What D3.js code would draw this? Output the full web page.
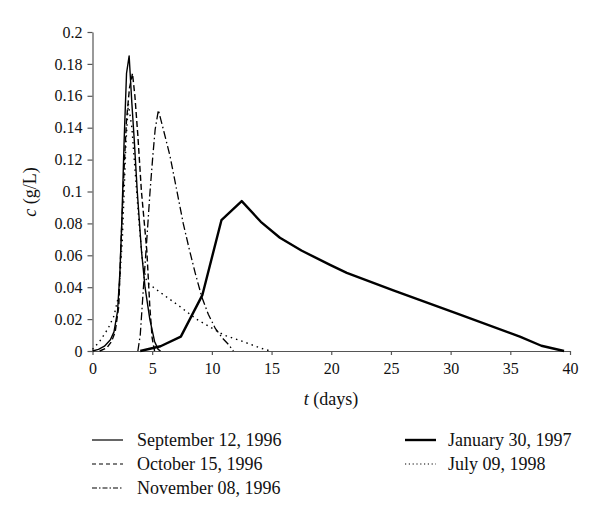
<!DOCTYPE html>
<html>
<head>
<meta charset="utf-8">
<script src="https://cdn.jsdelivr.net/npm/d3@7"></script>
<style>
  body { margin: 0; background: #fff; }
  svg { font-family: "Liberation Serif", "DejaVu Serif", serif; }
</style>
</head>
<body>
<svg id="chart" width="600" height="521"></svg>
<script>
// values: [t (days), c (g/L)]
const sep12 = [[0,0],[0.5,0.001],[1,0.003],[1.5,0.007],[1.8,0.012],[2.1,0.025],[2.3,0.05],[2.45,0.08],[2.65,0.132],[2.85,0.174],[3.07,0.185],
  [3.3,0.155],[3.5,0.132],[3.75,0.1],[4.1,0.063],[4.4,0.04],[4.8,0.02],[5.2,0.006],[5.5,0.001],[5.7,0]];
const oct15 = [[0.6,0],[1.2,0.002],[1.6,0.006],[1.9,0.012],[2.2,0.028],[2.4,0.07],[2.65,0.115],[2.85,0.145],[3.1,0.165],[3.35,0.174],
  [3.55,0.16],[3.8,0.135],[4.1,0.1],[4.55,0.063],[4.8,0.028],[5.0,0.008],[5.2,0]];
const nov08 = [[3.8,0],[4.0,0.01],[4.25,0.038],[4.55,0.07],[4.82,0.1],[5.05,0.122],[5.25,0.139],[5.52,0.151],[6.0,0.137],[6.5,0.122],
  [7.0,0.103],[7.6,0.08],[8.1,0.064],[8.6,0.049],[9.15,0.034],[9.7,0.023],[10.3,0.014],[10.9,0.008],[11.4,0.004],[11.8,0]];
const jan30 = [[4.0,0],[5.7,0.003],[7.4,0.009],[9.2,0.035],[10.8,0.082],[12.5,0.094],[14.1,0.081],[15.7,0.071],[17.5,0.063],
  [19.9,0.054],[21.3,0.049],[25.2,0.038],[30.5,0.0236],[35.8,0.009],[37.6,0.0033],[39.5,0]];
const jul09 = [[0,0.001],[0.6,0.006],[1.3,0.014],[1.8,0.022],[2.2,0.035],[2.5,0.07],[2.8,0.13],[3.0,0.155],[3.3,0.14],[3.6,0.11],
  [3.9,0.08],[4.2,0.055],[4.55,0.043],[6,0.035],[7.3,0.028],[8.7,0.02],[11,0.01],[12.6,0.006],[14,0.002],[14.9,0]];

const seriesNames = ["September 12, 1996", "October 15, 1996", "November 08, 1996", "January 30, 1997", "July 09, 1998"];
const seriesData = [sep12, oct15, nov08, jan30, jul09];
const xTicks = [0, 5, 10, 15, 20, 25, 30, 35, 40];
const yTicks = [0, 0.02, 0.04, 0.06, 0.08, 0.1, 0.12, 0.14, 0.16, 0.18, 0.2];

const styles = [
  { width: 1.4, dash: null, legendDash: null },
  { width: 1.4, dash: "6,3", legendDash: "4,3" },
  { width: 1.3, dash: "8,3,1.5,3", legendDash: "5,2,1.5,2" },
  { width: 2.4, dash: null, legendDash: null },
  { width: 1.4, dash: "1.5,4", legendDash: "1.2,2.6" }
];

const svg = d3.select("#chart");
const x = d3.scaleLinear().domain([0, 40]).range([92.5, 570]);
const y = d3.scaleLinear().domain([0, 0.2]).range([351, 32]);

const line = d3.line().x(d => x(d[0])).y(d => y(d[1]));

// axes
const xAxis = svg.append("g")
  .attr("transform", "translate(0," + y(0) + ")")
  .call(d3.axisBottom(x).tickValues(xTicks).tickSize(4).tickSizeOuter(0).tickPadding(8));
const yAxis = svg.append("g")
  .attr("transform", "translate(" + x(0) + ",0)")
  .call(d3.axisLeft(y).tickValues(yTicks).tickSize(5).tickSizeOuter(0).tickPadding(5).tickFormat(d => String(+d.toFixed(2))));

[xAxis, yAxis].forEach(g => {
  g.selectAll("path, line").attr("stroke", "#555").attr("stroke-width", 1.2);
  g.selectAll("text").attr("font-family", "Liberation Serif").attr("font-size", 16).attr("fill", "#111");
});

// series
svg.append("g").selectAll("path")
  .data(seriesData)
  .join("path")
  .attr("d", line)
  .attr("fill", "none")
  .attr("stroke", "#000")
  .attr("stroke-linejoin", "round")
  .attr("stroke-width", (d, i) => styles[i].width)
  .attr("stroke-dasharray", (d, i) => styles[i].dash);

// axis titles
const yt = svg.append("text")
  .attr("transform", "translate(36,192) rotate(-90)")
  .attr("text-anchor", "middle")
  .attr("font-size", 18)
  .attr("fill", "#111");
yt.append("tspan").attr("font-style", "italic").text("c");
yt.append("tspan").text(" (g/L)");

const xt = svg.append("text")
  .attr("x", 331).attr("y", 405)
  .attr("text-anchor", "middle")
  .attr("font-size", 18)
  .attr("fill", "#111");
xt.append("tspan").attr("font-style", "italic").text("t");
xt.append("tspan").text(" (days)");

// legend
const legendPos = [
  { lx: 92, ly: 440 }, { lx: 92, ly: 464 }, { lx: 92, ly: 488 },
  { lx: 405, ly: 440 }, { lx: 405, ly: 464 }
];
const legend = svg.append("g").selectAll("g")
  .data(seriesNames)
  .join("g")
  .attr("transform", (d, i) => "translate(" + legendPos[i].lx + "," + legendPos[i].ly + ")");
legend.append("line")
  .attr("x1", 0).attr("x2", 31).attr("y1", 0).attr("y2", 0)
  .attr("stroke", "#000")
  .attr("stroke-width", (d, i) => i === 3 ? 2.4 : 1.2)
  .attr("stroke-dasharray", (d, i) => styles[i].legendDash);
legend.append("text")
  .attr("x", (d, i) => i < 3 ? 45 : 43)
  .attr("y", 6)
  .attr("font-size", 18)
  .attr("fill", "#111")
  .text(d => d);
</script>
</body>
</html>
